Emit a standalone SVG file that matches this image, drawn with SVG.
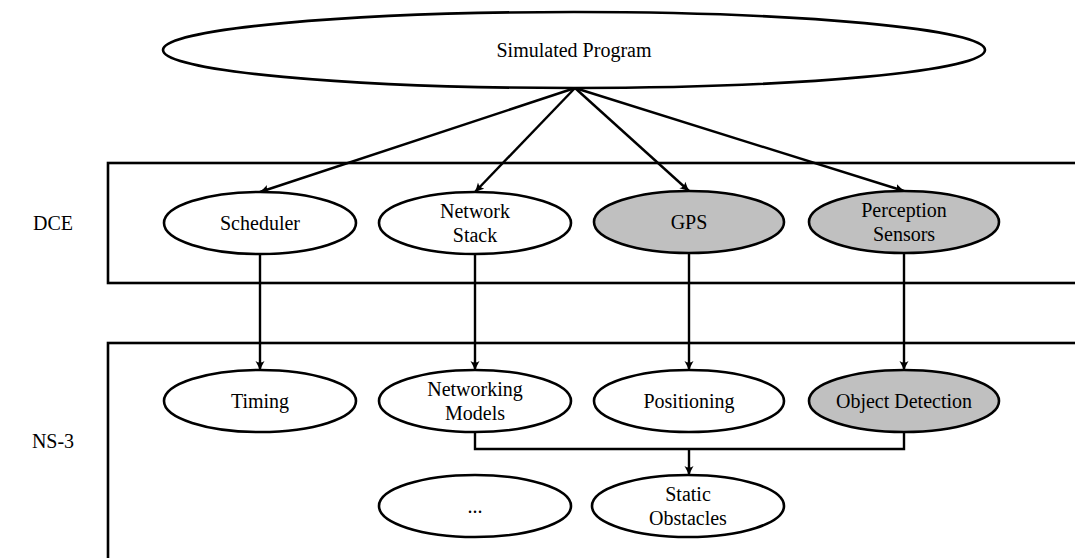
<svg xmlns="http://www.w3.org/2000/svg" width="1075" height="558" viewBox="0 0 1075 558" font-family="'Liberation Serif', 'Times New Roman', 'DejaVu Serif', serif">
<style>
text{font-family:'Liberation Serif','Times New Roman','DejaVu Serif',serif;font-size:20px;fill:#000;text-anchor:middle}
.n{fill:#fff;stroke:#000;stroke-width:2.6}
.g{fill:#c0c0c0;stroke:#000;stroke-width:2.6}
.box{fill:none;stroke:#000;stroke-width:2.6}
.c{fill:none;stroke:#000;stroke-width:2.4;marker-end:url(#ah)}
.l{fill:none;stroke:#000;stroke-width:2.4}
</style>
<defs>
<marker id="ah" markerWidth="12" markerHeight="10" refX="9" refY="5" orient="auto" markerUnits="userSpaceOnUse">
<path d="M0,0.5 Q5,3.5 10,5 Q5,6.5 0,9.5 Q3,5 0,0.5 Z" fill="#000"/>
</marker>
</defs>
<g id="layers">
<rect id="dce-box" class="box" x="108" y="163" width="980" height="120"/>
<rect id="ns3-box" class="box" x="108" y="343" width="980" height="230"/>
<text x="53" y="230">DCE</text>
<text x="53" y="448">NS-3</text>
</g>
<g id="connectors">
<path class="c" d="M575,88 L260,192"/>
<path class="c" d="M575,88 L475,192"/>
<path class="c" d="M575,88 L689,191"/>
<path class="c" d="M575,88 L904,191"/>
<path class="c" d="M260,254 L260,370"/>
<path class="c" d="M475,254 L475,370"/>
<path class="c" d="M689,253 L689,370"/>
<path class="c" d="M904,253 L904,370"/>
<path class="l" d="M475,432 L475,449 L904,449 L904,432"/>
<path class="c" d="M689,449 L689,475"/>
</g>
<g id="simulated-program"><ellipse class="n" cx="574" cy="50" rx="411" ry="38"/><text x="574" y="57">Simulated Program</text></g>
<g id="scheduler"><ellipse class="n" cx="260" cy="223" rx="96" ry="31"/><text x="260" y="230">Scheduler</text></g>
<g id="network-stack"><ellipse class="n" cx="475" cy="223" rx="96" ry="31"/><text x="475" y="218">Network</text><text x="475" y="242">Stack</text></g>
<g id="gps"><ellipse class="g" cx="689" cy="222" rx="95" ry="31"/><text x="689" y="229">GPS</text></g>
<g id="perception-sensors"><ellipse class="g" cx="904" cy="222" rx="95" ry="31"/><text x="904" y="217">Perception</text><text x="904" y="241">Sensors</text></g>
<g id="timing"><ellipse class="n" cx="260" cy="401" rx="96" ry="31"/><text x="260" y="408">Timing</text></g>
<g id="networking-models"><ellipse class="n" cx="475" cy="401" rx="96" ry="31"/><text x="475" y="396">Networking</text><text x="475" y="420">Models</text></g>
<g id="positioning"><ellipse class="n" cx="689" cy="401" rx="95" ry="31"/><text x="689" y="408">Positioning</text></g>
<g id="object-detection"><ellipse class="g" cx="904" cy="401" rx="95" ry="31"/><text x="904" y="408">Object Detection</text></g>
<g id="more"><ellipse class="n" cx="475" cy="506" rx="96" ry="31"/><text x="475" y="513">...</text></g>
<g id="static-obstacles"><ellipse class="n" cx="688" cy="506" rx="96" ry="31"/><text x="688" y="501">Static</text><text x="688" y="525">Obstacles</text></g>
</svg>
